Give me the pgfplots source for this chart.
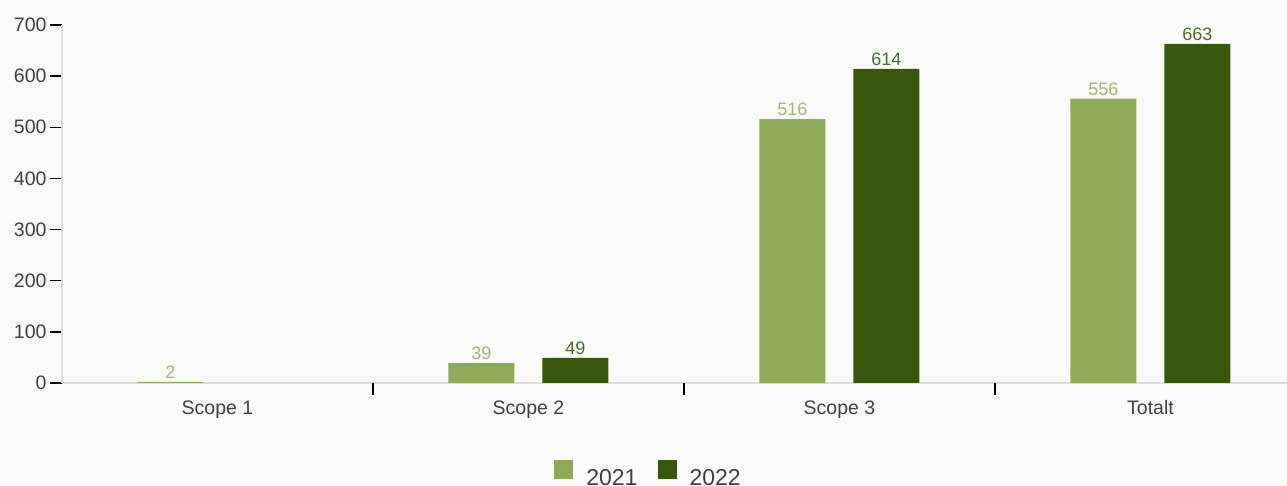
\documentclass[border=0pt]{standalone}
\usepackage{fontspec}
\setmainfont{Liberation Sans}
\usepackage{pgfplots}
\pgfplotsset{compat=1.18}

\definecolor{bgc}{HTML}{FAFAFA}
\definecolor{lightg}{HTML}{8EA958}
\definecolor{darkg}{HTML}{39560D}
\definecolor{lightlab}{HTML}{9DBA70}
\definecolor{darklab}{HTML}{4E6B2A}
\definecolor{axisgray}{HTML}{DCDCDC}
\definecolor{txt}{HTML}{404040}

\begin{document}
\begin{tikzpicture}
% page = 1287 x 486 px, axis box lower-left at (62,383) px
\fill[bgc] (-62pt,-103pt) rectangle (1225pt,383pt);
\useasboundingbox (-62pt,-103pt) rectangle (1225pt,383pt);
\begin{axis}[
    at={(0pt,0pt)}, anchor=south west,
    scale only axis,
    width=1225pt, height=358pt,
    xmin=-0.5, xmax=3.439,
    ymin=0, ymax=700,
    ybar=28pt, bar width=66pt,
    axis x line*=bottom, axis y line*=left,
    axis line style={draw=axisgray, line width=1.5pt},
    xtick={0,1,2,3},
    xticklabels={Scope 1,Scope 2,Scope 3,Totalt},
    xtick style={draw=none},
    major x tick style={draw=none},
    extra x ticks={0.5,1.5,2.5},
    extra x tick labels={},
    extra x tick style={
        major tick length=12pt,
        tick align=outside,
        tick style={draw=black, line width=1.5pt},
        major x tick style={draw=black, line width=1.5pt}},
    ytick={0,100,...,700},
    tick align=outside,
    major tick length=12pt,
    ytick style={draw=black, line width=1.5pt},
    ticklabel style={font=\fontsize{19.5}{22}\selectfont, text=txt},
    /pgf/number format/assume math mode=true,
    xticklabel style={yshift=-2pt},
    nodes near coords,
    every node near coord/.append style={font=\fontsize{18}{20}\selectfont, inner sep=3pt},
    legend style={
        at={(0.478,-0.2528)}, anchor=center,
        draw=none, fill=none,
        legend columns=-1,
        font=\fontsize{23}{26}\selectfont, text=txt,
        nodes={inner sep=0pt},
        /tikz/every odd column/.append style={column sep=13pt},
        /tikz/every even column/.append style={column sep=20pt},
    },
    legend image code/.code={\fill[#1,draw=none] (0pt,-0.5pt) rectangle (19pt,18.5pt);},
]
\addplot[fill=lightg, draw=none, nodes near coords style={text=lightlab}]
    coordinates {(0,2) (1,39) (2,516) (3,556)};
\addlegendentry{2021}
\addplot[fill=darkg, draw=none, nodes near coords style={text=darklab}]
    coordinates {(1,49) (2,614) (3,663)};
\addlegendentry{2022}
\end{axis}
\end{tikzpicture}
\end{document}
